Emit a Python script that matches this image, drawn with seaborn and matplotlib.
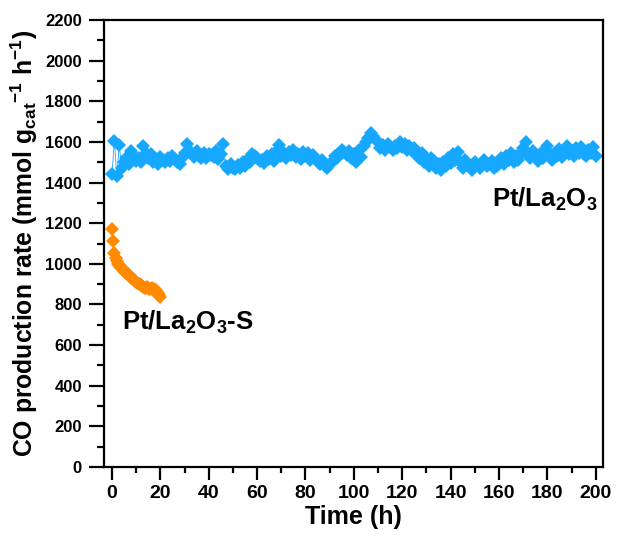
import numpy as np
import pandas as pd
import matplotlib
matplotlib.use("Agg")
import matplotlib.pyplot as plt
import seaborn as sns
from matplotlib.ticker import MultipleLocator

# ---- data ----
time_pt = list(range(0, 201))
rate_pt = [
    1440, 1605, 1430, 1585, 1470, 1500, 1520, 1490, 1555, 1530,
    1505, 1520, 1500, 1580, 1545, 1520, 1540, 1500, 1515, 1490,
    1525, 1510, 1500, 1520, 1505, 1530, 1515, 1500, 1490, 1520,
    1545, 1590, 1560, 1540, 1525, 1555, 1530, 1520, 1545, 1520,
    1540, 1535, 1525, 1555, 1515, 1540, 1590, 1480, 1465, 1490,
    1470, 1465, 1485, 1470, 1500, 1480, 1510, 1500, 1540, 1530,
    1520, 1505, 1510, 1495, 1530, 1515, 1540, 1505, 1550, 1585,
    1530, 1545, 1520, 1550, 1535, 1560, 1525, 1540, 1515, 1550,
    1530, 1545, 1510, 1535, 1520, 1500, 1490, 1510, 1480, 1470,
    1490, 1500, 1530, 1520, 1545, 1560, 1550, 1535, 1555, 1520,
    1540, 1500, 1560, 1525, 1580, 1600, 1620, 1645, 1630, 1610,
    1600, 1570, 1585, 1560, 1590, 1575, 1560, 1580, 1570, 1600,
    1575, 1590, 1560, 1580, 1555, 1570, 1540, 1520, 1545, 1500,
    1510, 1480, 1520, 1505, 1470, 1490, 1460, 1500, 1480, 1520,
    1495, 1540, 1510, 1550, 1500, 1470, 1510, 1490, 1480, 1460,
    1500, 1485, 1470, 1495, 1510, 1480, 1490, 1505, 1470, 1480,
    1500, 1520, 1490, 1530, 1510, 1545, 1500, 1530, 1510, 1545,
    1570, 1600, 1540, 1520, 1555, 1530, 1505, 1540, 1520, 1560,
    1580, 1540, 1510, 1545, 1530, 1565, 1525, 1550, 1580, 1540,
    1555, 1530, 1570, 1545, 1575, 1540, 1530, 1560, 1545, 1575,
    1530,
]
time_s = [i * 0.5 for i in range(41)]
rate_s = [
    1170, 1110, 1055, 1030, 1015, 1000, 995, 985, 980, 975,
    965, 960, 955, 950, 945, 940, 930, 925, 920, 915,
    910, 905, 900, 900, 895, 890, 885, 880, 880, 885,
    880, 875, 875, 880, 870, 875, 870, 860, 855, 845,
    838,
]
x_ticks = list(range(0, 201, 20))
y_ticks = list(range(0, 2201, 200))

df_pt = pd.DataFrame({"t": time_pt, "r": rate_pt})
df_s = pd.DataFrame({"t": time_s, "r": rate_s})

sns.set_style("ticks")
plt.rcParams["font.family"] = ["Liberation Sans", "DejaVu Sans"]
plt.rcParams["font.weight"] = "bold"
plt.rcParams["text.color"] = "black"
plt.rcParams["axes.labelcolor"] = "black"
plt.rcParams["xtick.color"] = "black"
plt.rcParams["ytick.color"] = "black"
plt.rcParams["mathtext.fontset"] = "custom"
plt.rcParams["mathtext.rm"] = "Liberation Sans:bold"
plt.rcParams["mathtext.it"] = "Liberation Sans:bold"
plt.rcParams["mathtext.bf"] = "Liberation Sans:bold"

fig = plt.figure(figsize=(6.19, 5.39), dpi=100)
ax = fig.add_axes([104 / 619, 1 - 467 / 539, (603 - 104) / 619, (467 - 20) / 539])

blue = "#16A8FF"
orange = "#FF8A00"
sns.lineplot(data=df_pt, x="t", y="r", ax=ax, color=blue, marker="D",
             markersize=7.2, markeredgewidth=0, linewidth=0.6)
sns.lineplot(data=df_s, x="t", y="r", ax=ax, color=orange, marker="D",
             markersize=7.2, markeredgewidth=0, linewidth=0.6)

ax.set_xlim(-3.3, 203)
ax.set_ylim(0, 2200)
ax.set_xticks(x_ticks)
ax.set_yticks(y_ticks)
ax.xaxis.set_minor_locator(MultipleLocator(10))
ax.yaxis.set_minor_locator(MultipleLocator(100))
for s in ax.spines.values():
    s.set_linewidth(1.6)
    s.set_color("black")
ax.tick_params(axis="x", which="major", direction="out", length=9,
               width=1.6, labelsize=14, pad=4)
ax.tick_params(axis="x", which="minor", direction="out", length=4.5, width=1.6)
ax.tick_params(axis="y", which="major", direction="out", length=11,
               width=1.6, labelsize=12, pad=5)
ax.tick_params(axis="y", which="minor", direction="out", length=5, width=1.6)
for lab in ax.get_xticklabels() + ax.get_yticklabels():
    lab.set_fontweight("bold")

ax.set_xlabel("Time (h)", fontsize=18, fontweight="bold", labelpad=2)
ax.set_ylabel(r"CO production rate (mmol g$_{cat}$$^{-1}$ h$^{-1}$)",
              fontsize=17.8, fontweight="bold")
ax.yaxis.set_label_coords(-0.128, 0.5)

ax.text(157, 1319, r"Pt/La$_2$O$_3$", fontsize=18.5, fontweight="bold",
        ha="left", va="center")
ax.text(4, 714, r"Pt/La$_2$O$_3$-S", fontsize=18.5, fontweight="bold",
        ha="left", va="center")

fig.savefig("out.png", dpi=100)
